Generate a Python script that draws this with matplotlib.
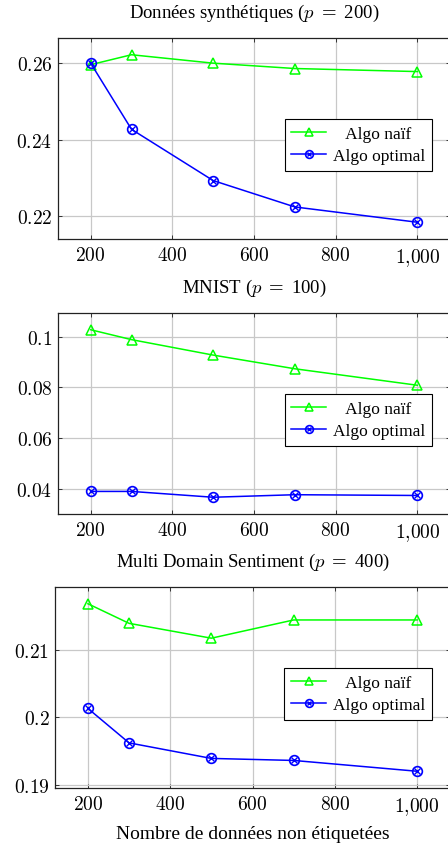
import matplotlib
matplotlib.use("Agg")
import matplotlib.pyplot as plt
from matplotlib.ticker import FixedLocator, FuncFormatter
from matplotlib.legend_handler import HandlerTuple

plt.rcParams['font.family'] = ['Liberation Serif', 'DejaVu Serif']
plt.rcParams['mathtext.fontset'] = 'cm'

# number of unlabeled samples
n_unlab = [200, 300, 500, 700, 1000]
x_ticks = [200, 400, 600, 800, 1000]

# synthetic data (p = 200)
synth_naive = [0.2596, 0.2622, 0.2600, 0.2586, 0.2578]
synth_opt = [0.2600, 0.2427, 0.2293, 0.2224, 0.2184]
synth_yticks = [0.22, 0.24, 0.26]

# MNIST (p = 100)
mnist_naive = [0.1027, 0.0988, 0.0927, 0.0873, 0.0808]
mnist_opt = [0.0389, 0.0389, 0.0366, 0.0376, 0.0373]
mnist_yticks = [0.04, 0.06, 0.08, 0.1]

# Multi Domain Sentiment (p = 400)
mds_naive = [0.2168, 0.2139, 0.2117, 0.2144, 0.2144]
mds_opt = [0.2013, 0.1962, 0.1939, 0.1936, 0.1920]
mds_yticks = [0.19, 0.2, 0.21]

titles = [r"Données synthétiques ($p$ $=$ 200)",
          r"MNIST ($p$ $=$ 100)",
          r"Multi Domain Sentiment ($p$ $=$ 400)"]

W, H = 448, 845
fig = plt.figure(figsize=(W / 100, H / 100), dpi=100)

# axes boxes in pixels: left, top, right, bottom
boxes = [(58, 39, 450, 240), (58, 314, 450, 515), (55, 588, 450, 789)]
panels = [(synth_naive, synth_opt, synth_yticks),
          (mnist_naive, mnist_opt, mnist_yticks),
          (mds_naive, mds_opt, mds_yticks)]

green = '#00ff00'
blue = '#0000ff'

for (l, t, r, b), (naive, opt, yt), title in zip(boxes, panels, titles):
    ax = fig.add_axes([l / W, 1 - b / H, (r - l) / W, (b - t) / H])
    ln1, = ax.plot(n_unlab, naive, color=green, lw=1.1, marker='^', ms=6.5,
                   mfc='none', mec=green, mew=1.1)
    ln2, = ax.plot(n_unlab, opt, color=blue, lw=1.1, marker='o', ms=7,
                   mfc='none', mec=blue, mew=1.2)
    ln3, = ax.plot(n_unlab, opt, ls='none', marker='x', ms=4.2, mec=blue, mew=1.0)

    allv = naive + opt
    lo, hi = min(allv), max(allv)
    pad = (hi - lo) * 0.1
    ax.set_ylim(lo - pad, hi + pad)
    ax.set_xlim(120, 1080)

    ax.xaxis.set_major_locator(FixedLocator(x_ticks))
    ax.yaxis.set_major_locator(FixedLocator(yt))
    ax.xaxis.set_major_formatter(FuncFormatter(lambda v, p: "${:,}$".format(int(v)).replace(",", "{,}")))
    ax.yaxis.set_major_formatter(FuncFormatter(lambda v, p: "$%g$" % v))
    ax.tick_params(direction='in', length=3, width=0.7, labelsize=14,
                   top=True, right=True, color='#333333')
    ax.tick_params(axis='x', pad=5)
    ax.tick_params(axis='y', pad=4)
    ax.grid(True, color='#c8c8c8', lw=0.9)
    ax.set_axisbelow(True)
    for s in ax.spines.values():
        s.set_linewidth(0.9)
        s.set_color('#222222')

    ax.set_title(title, fontsize=13.5, pad=15)

    leg = ax.legend([ln1, (ln2, ln3)], ['   Algo naïf', 'Algo optimal'],
                    handler_map={tuple: HandlerTuple(ndivide=1)},
                    loc='center right', bbox_to_anchor=(0.955, 0.468),
                    fontsize=12.5, numpoints=1, handlelength=2.0,
                    markerscale=0.8,
                    fancybox=False, framealpha=1, edgecolor='black',
                    borderpad=0.4, labelspacing=0.35, handletextpad=0.4,
                    borderaxespad=0)
    leg.get_frame().set_linewidth(0.8)

ax.set_xlabel("Nombre de données non étiquetées", fontsize=14, labelpad=6)

fig.savefig("out.png", dpi=100)
